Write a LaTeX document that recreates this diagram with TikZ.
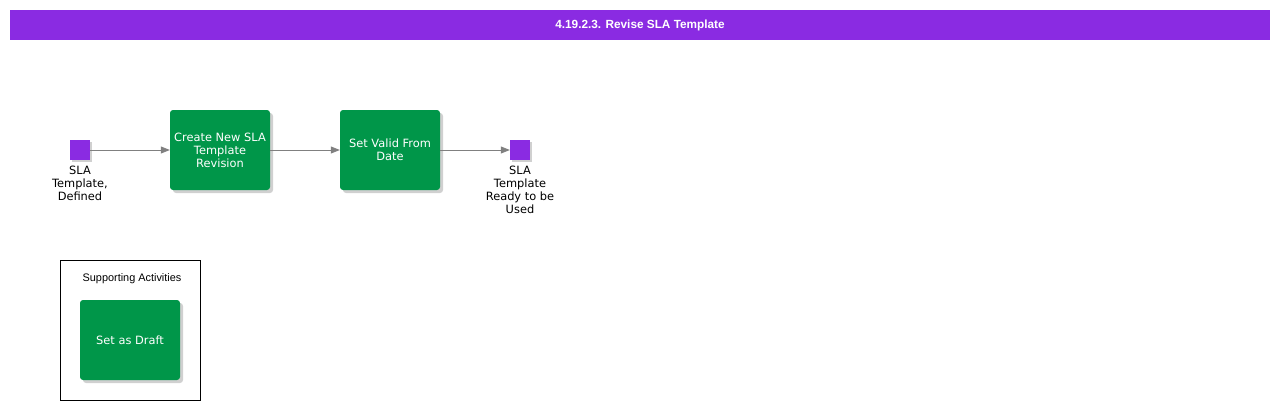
\documentclass[tikz,border=0pt]{standalone}
\usepackage{fontspec}
\setmainfont{DejaVu Sans}
\newfontfamily\arialfont{Liberation Sans}
\usetikzlibrary{arrows.meta,shadows}
\definecolor{titlepurple}{HTML}{8A2BE2}
\definecolor{actgreen}{HTML}{009649}
\definecolor{evpurple}{HTML}{8A2BE2}
\definecolor{linegray}{HTML}{808080}
\tikzset{
  actbox/.style={draw=none, fill=actgreen, rounded corners=3pt, minimum width=100pt, minimum height=80pt,
    align=center, text=white, font=\fontsize{11.4pt}{13pt}\selectfont, inner sep=0pt,
    drop shadow={shadow xshift=3pt, shadow yshift=-3pt, fill=black!30, opacity=0.6}},
  evbox/.style={draw=none, fill=evpurple, minimum width=20pt, minimum height=20pt, inner sep=0pt,
    drop shadow={shadow xshift=2pt, shadow yshift=-2pt, fill=black!30, opacity=0.6}},
  evlabel/.style={align=center, font=\fontsize{11.4pt}{13pt}\selectfont, inner sep=0pt, anchor=north},
  flow/.style={draw=linegray, line width=0.8pt, -{Triangle[length=9pt,width=7pt]}},
}
\begin{document}
\begin{tikzpicture}[x=1pt,y=-1pt]
\useasboundingbox (0,0) rectangle (1280,410);
\fill[white] (0,0) rectangle (1280,410);
% title bar
\node[fill=titlepurple, minimum width=1260pt, minimum height=30pt, inner sep=0pt, text=white,
  font=\arialfont\bfseries\fontsize{11.8pt}{13pt}\selectfont] (title) at (640,25) {4.19.2.3. Revise SLA Template};
% events and activities
\node[evbox] (start) at (80,150) {};
\node[evlabel] (startlbl) at (80,166) {SLA\\Template,\\Defined};
\node[actbox] (create) at (220,150) {Create New SLA\\Template\\Revision};
\node[actbox] (valid) at (390,150) {Set Valid From\\Date};
\node[evbox] (end) at (520,150) {};
\node[evlabel] (endlbl) at (520,166) {SLA\\Template\\Ready to be\\Used};
\draw[flow] (start) -- (create);
\draw[flow] (create) -- (valid);
\draw[flow] (valid) -- (end);
% supporting activities
\node[draw=black, line width=0.8pt, minimum width=140pt, minimum height=140pt, inner sep=0pt] (support) at (130,330) {};
\node[font=\arialfont\fontsize{10.9pt}{13pt}\selectfont] (supportlbl) at (132,279) {Supporting Activities};
\node[actbox] (draft) at (130,340) {Set as Draft};
\end{tikzpicture}
\end{document}
